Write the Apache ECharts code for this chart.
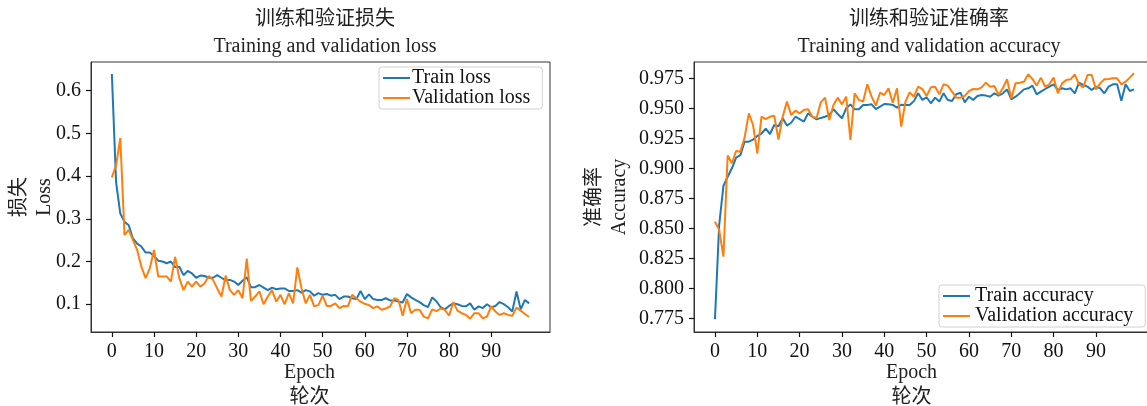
<!DOCTYPE html>
<html><head><meta charset="utf-8">
<script src="https://cdn.jsdelivr.net/npm/echarts@6/dist/echarts.min.js"></script>
<style>html,body{margin:0;padding:0;background:#fff}#c{width:1147px;height:406px}</style>
</head><body><div id="c"></div>
<script>
const epochs = Array.from({length: 100}, (_, i) => i);
const trainLoss = [0.639,0.386,0.312,0.293,0.285,0.254,0.242,0.235,0.221,0.221,0.213,0.202,0.200,0.196,0.200,0.187,0.188,0.168,0.178,0.172,0.162,0.167,0.166,0.162,0.162,0.168,0.162,0.156,0.157,0.153,0.145,0.155,0.163,0.140,0.140,0.145,0.139,0.133,0.139,0.135,0.137,0.137,0.131,0.131,0.133,0.127,0.133,0.130,0.120,0.126,0.122,0.124,0.120,0.122,0.112,0.118,0.118,0.114,0.112,0.131,0.112,0.123,0.112,0.110,0.110,0.114,0.109,0.109,0.106,0.104,0.124,0.116,0.110,0.105,0.098,0.093,0.116,0.107,0.093,0.088,0.096,0.102,0.100,0.096,0.095,0.102,0.087,0.095,0.091,0.100,0.093,0.096,0.105,0.100,0.093,0.083,0.130,0.088,0.110,0.102];
const valLoss = [0.397,0.425,0.489,0.262,0.274,0.250,0.227,0.188,0.161,0.184,0.227,0.165,0.165,0.165,0.153,0.211,0.161,0.133,0.153,0.141,0.153,0.141,0.149,0.166,0.157,0.137,0.118,0.167,0.133,0.122,0.133,0.114,0.207,0.108,0.118,0.130,0.100,0.118,0.133,0.106,0.122,0.100,0.126,0.102,0.186,0.137,0.102,0.122,0.095,0.098,0.120,0.096,0.096,0.102,0.091,0.096,0.095,0.122,0.114,0.106,0.101,0.098,0.091,0.095,0.087,0.090,0.095,0.114,0.110,0.073,0.112,0.079,0.087,0.087,0.071,0.067,0.088,0.084,0.090,0.087,0.073,0.105,0.085,0.079,0.075,0.066,0.079,0.079,0.067,0.071,0.095,0.083,0.075,0.079,0.075,0.073,0.092,0.085,0.077,0.070];
const trainAcc = [0.7742,0.8528,0.8853,0.893,0.900,0.9089,0.911,0.9222,0.9222,0.924,0.927,0.929,0.933,0.9286,0.9361,0.935,0.9417,0.9356,0.938,0.943,0.941,0.939,0.9458,0.943,0.9408,0.942,0.943,0.9444,0.9492,0.9453,0.9417,0.950,0.9533,0.9492,0.9492,0.9528,0.9528,0.9533,0.9494,0.9514,0.9536,0.9533,0.9528,0.9506,0.953,0.9528,0.9528,0.956,0.9625,0.957,0.9592,0.9542,0.9589,0.9556,0.9625,0.957,0.9561,0.9617,0.963,0.955,0.9597,0.957,0.9603,0.9611,0.9606,0.9597,0.9625,0.9606,0.9625,0.9658,0.9575,0.9597,0.9625,0.9658,0.9667,0.9689,0.9617,0.9639,0.9661,0.9681,0.970,0.9653,0.9667,0.9658,0.9667,0.9625,0.9714,0.9694,0.9681,0.9653,0.9681,0.9667,0.9625,0.9681,0.970,0.970,0.9564,0.970,0.9644,0.9658];
const valAcc = [0.8556,0.8486,0.8264,0.9106,0.9042,0.9144,0.9139,0.9256,0.9458,0.9361,0.9125,0.943,0.941,0.943,0.9439,0.924,0.943,0.9556,0.9444,0.948,0.9458,0.9486,0.9492,0.943,0.942,0.955,0.9589,0.9403,0.9528,0.9589,0.9533,0.9597,0.9236,0.9625,0.957,0.9556,0.970,0.9597,0.9522,0.963,0.9611,0.9667,0.9547,0.9667,0.9347,0.9556,0.9633,0.9597,0.968,0.966,0.9603,0.9675,0.968,0.9617,0.970,0.9689,0.9639,0.9589,0.9589,0.9603,0.9644,0.9661,0.9658,0.9675,0.9714,0.968,0.9686,0.9611,0.9667,0.9742,0.9583,0.9708,0.9714,0.9722,0.9783,0.9744,0.9689,0.9756,0.968,0.970,0.9756,0.9625,0.9708,0.9736,0.9742,0.9783,0.970,0.9675,0.9778,0.9778,0.9658,0.9708,0.9742,0.9744,0.975,0.975,0.970,0.9722,0.9756,0.9792];
const xTicks = [0,10,20,30,40,50,60,70,80,90];
const lossTicks = [0.1,0.2,0.3,0.4,0.5,0.6];
const accTicks = [0.775,0.8,0.825,0.85,0.875,0.9,0.925,0.95,0.975];

const FONT = "'Liberation Serif','Noto Sans CJK SC',serif";
const FS = 20;
const BLUE = '#1f77b4', ORANGE = '#ff7f0e';

function pairs(arr){ return arr.map((v,i)=>[epochs[i], v]); }

function xAxisCfg(gi, shift){
  return {
    type:'value', gridIndex:gi, min:-4.95, max:103.95,
    name:'Epoch\n轮次', nameLocation:'middle', nameGap:28, nameMoveOverlap:false,
    nameTextStyle:{fontFamily:FONT, fontSize:FS, color:'#222', lineHeight:25, padding:[0, shift*2, 0, 0]},
    axisLine:{show:true, onZero:false, lineStyle:{color:'#333', width:1}},
    axisTick:{show:true, inside:false, length:5, lineStyle:{color:'#111', width:1.2}, customValues:xTicks},
    axisLabel:{fontFamily:FONT, fontSize:FS, color:'#111', margin:10, customValues:xTicks, formatter:v=>String(Math.round(v))},
    splitLine:{show:false}
  };
}
function yAxisCfg(gi, min, max, ticks, name, gap, dec){
  return {
    type:'value', gridIndex:gi, min:min, max:max,
    name:name, nameLocation:'middle', nameRotate:90, nameGap:gap, nameMoveOverlap:false,
    nameTextStyle:{fontFamily:FONT, fontSize:FS, color:'#222', lineHeight:25},
    axisLine:{show:true, onZero:false, lineStyle:{color:'#333', width:1}},
    axisTick:{show:true, inside:false, length:5, lineStyle:{color:'#111', width:1.2}, customValues:ticks},
    axisLabel:{fontFamily:FONT, fontSize:FS, color:'#111', margin:10, customValues:ticks, formatter:v=>v.toFixed(dec)},
    splitLine:{show:false}
  };
}
function lineSeries(name, data, color, xi){
  return {type:'line', name:name, xAxisIndex:xi, yAxisIndex:xi, data:pairs(data),
    showSymbol:false, symbol:'none', lineStyle:{color:color, width:2}, itemStyle:{color:color}, animation:false};
}
function legendCfg(names, left, top, tpad){
  return {data:names, orient:'vertical', left:left, top:top,
    icon:'rect', itemWidth:27, itemHeight:2, itemGap:0,
    textStyle:{fontFamily:FONT, fontSize:FS, color:'#111', lineHeight:20, padding:[0,0,0,tpad]},
    backgroundColor:'rgba(255,255,255,0.8)', borderColor:'#d0d0d0', borderWidth:1, borderRadius:3, padding:[1,12,1,4]};
}

const chart = echarts.init(document.getElementById('c'), null, {renderer:'canvas'});
chart.setOption({
  animation:false,
  backgroundColor:'#fff',
  title:[
    {text:'训练和验证损失\nTraining and validation loss', left:320, top:1, textAlign:'center',
     textStyle:{fontFamily:FONT, fontSize:FS, fontWeight:'normal', color:'#222', lineHeight:27}},
    {text:'训练和验证准确率\nTraining and validation accuracy', left:924, top:1, textAlign:'center',
     textStyle:{fontFamily:FONT, fontSize:FS, fontWeight:'normal', color:'#222', lineHeight:27}}
  ],
  grid:[
    {left:91, top:62, width:459, height:270, show:true, borderColor:'#333', borderWidth:1, backgroundColor:'transparent', containLabel:false, outerBoundsMode:'none'},
    {left:694, top:62, width:461, height:270, show:true, borderColor:'#333', borderWidth:1, backgroundColor:'transparent', containLabel:false, outerBoundsMode:'none'}
  ],
  xAxis:[xAxisCfg(0, 11), xAxisCfg(1, 13)],
  yAxis:[
    yAxisCfg(0, 0.035, 0.667, lossTicks, '损失\nLoss', 34, 1),
    yAxisCfg(1, 0.7636, 0.9886, accTicks, '准确率\nAccuracy', 62, 3)
  ],
  legend:[
    legendCfg(['Train loss','Validation loss'], 379, 67, -3),
    legendCfg(['Train accuracy','Validation accuracy'], 939, 285, 0)
  ],
  series:[
    lineSeries('Train loss', trainLoss, BLUE, 0),
    lineSeries('Validation loss', valLoss, ORANGE, 0),
    lineSeries('Train accuracy', trainAcc, BLUE, 1),
    lineSeries('Validation accuracy', valAcc, ORANGE, 1)
  ]
});
</script></body></html>
